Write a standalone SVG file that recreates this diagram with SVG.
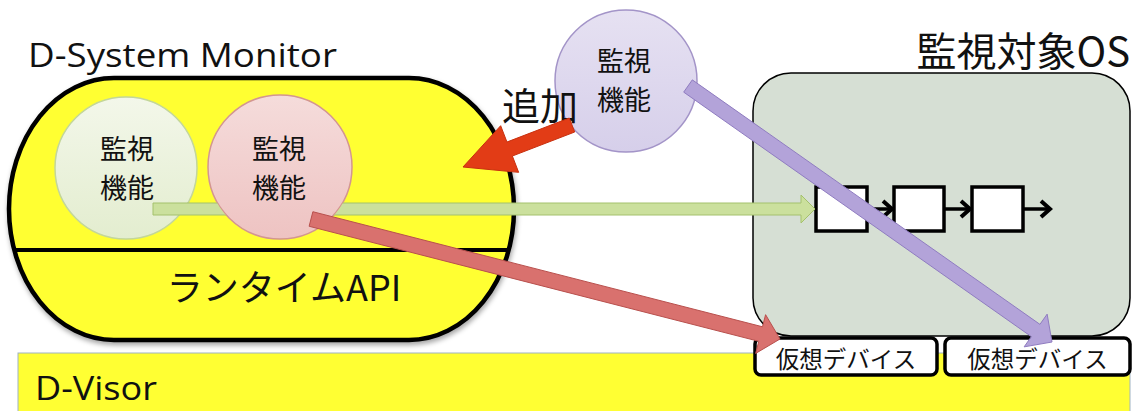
<svg xmlns="http://www.w3.org/2000/svg" width="1138" height="411" viewBox="0 0 1138 411">
<style>
.lat{font-family:"Open Sans","Noto Sans CJK JP",sans-serif;fill:#111}
.cjk{font-family:"Noto Sans CJK JP","Open Sans",sans-serif;fill:#111}
.mid{text-anchor:middle}
.chain{fill:#fff;stroke:#000;stroke-width:3.5}
.chainline{stroke:#000;stroke-width:3.5;fill:none}
.dev{fill:#fff;stroke:#000;stroke-width:3.5}
</style>
<defs>
<filter id="sh" x="-5%" y="-5%" width="110%" height="115%">
<feDropShadow dx="1" dy="3" stdDeviation="2.5" flood-color="#000" flood-opacity="0.35"/>
</filter>
<linearGradient id="gGreen" x1="0" y1="0" x2="0" y2="1"><stop offset="0" stop-color="#f3f7ea"/><stop offset="1" stop-color="#e3edcf"/></linearGradient>
<linearGradient id="gRed" x1="0" y1="0" x2="0" y2="1"><stop offset="0" stop-color="#f5dcdb"/><stop offset="1" stop-color="#eec3c2"/></linearGradient>
<linearGradient id="gPur" x1="0" y1="0" x2="0" y2="1"><stop offset="0" stop-color="#e6e1f2"/><stop offset="1" stop-color="#d6cfea"/></linearGradient>
<mask id="mRed" maskUnits="userSpaceOnUse" x="0" y="0" width="1138" height="411">
<rect width="1138" height="411" fill="#fff"/>
<circle cx="280" cy="167" r="72.5" fill="#000"/>
</mask>
<marker id="chev" viewBox="0 0 14 20" refX="11" refY="10" markerWidth="14" markerHeight="20" markerUnits="userSpaceOnUse" orient="auto">
<polyline points="2,2 11,10 2,18" fill="none" stroke="#000" stroke-width="4"/>
</marker>
</defs>

<rect width="1138" height="411" fill="#fff"/>

<g id="d-visor">
<rect x="18" y="353" width="1112" height="70" fill="#ffff33" stroke="#9fb4c4" stroke-width="1"/>
<text class="lat" x="35" y="400" font-size="33" textLength="122" lengthAdjust="spacingAndGlyphs">D-Visor</text>
</g>

<g id="d-system-monitor">
<text class="lat" x="28" y="67" font-size="33" textLength="309" lengthAdjust="spacingAndGlyphs">D-System Monitor</text>
<rect x="9" y="78" width="505" height="262" rx="105" ry="131" fill="#ffff33" stroke="#000" stroke-width="4.5" filter="url(#sh)"/>
<line x1="13" y1="250" x2="510" y2="250" stroke="#000" stroke-width="4"/>
</g>

<g id="runtime-api">
<text class="cjk mid" x="284" y="301" font-size="36">ランタイムAPI</text>
</g>

<g id="target-os">
<text class="cjk" x="1130" y="66" font-size="40" text-anchor="end">監視対象OS</text>
<rect x="753" y="73" width="377" height="263" rx="38" ry="38" fill="#d6dfd4" stroke="#000" stroke-width="1.5"/>
<rect class="chain" x="816" y="187" width="51" height="44"/>
<rect class="chain" x="894" y="187" width="50" height="44"/>
<rect class="chain" x="972" y="187" width="51" height="44"/>
<line class="chainline" x1="867" y1="209" x2="892" y2="209" marker-end="url(#chev)"/>
<line class="chainline" x1="944" y1="209" x2="970" y2="209" marker-end="url(#chev)"/>
<line class="chainline" x1="1023" y1="209" x2="1050" y2="209" marker-end="url(#chev)"/>
</g>

<g id="monitor-green">
<circle cx="126" cy="168" r="71" fill="url(#gGreen)" stroke="#c3d69b" stroke-width="1.5"/>
<text class="cjk mid" font-size="27"><tspan x="127" y="159">監視</tspan><tspan x="127" y="198">機能</tspan></text>
</g>

<g id="monitor-red">
<circle cx="280" cy="167" r="72" fill="url(#gRed)" stroke="#d39592" stroke-width="1.5"/>
<text class="cjk mid" font-size="27"><tspan x="279" y="159">監視</tspan><tspan x="279" y="198">機能</tspan></text>
</g>

<g id="monitor-purple">
<circle cx="626" cy="81" r="71" fill="url(#gPur)" stroke="#a394c8" stroke-width="1.5"/>
<text class="cjk mid" font-size="27"><tspan x="624" y="71">監視</tspan><tspan x="624" y="110">機能</tspan></text>
</g>

<g id="add-label">
<text class="cjk mid" x="540" y="120" font-size="38">追加</text>
</g>

<g id="vdev-1">
<rect class="dev" x="755" y="338" width="182" height="37" rx="6" ry="6"/>
<text class="cjk mid" x="846" y="368" font-size="23.5">仮想デバイス</text>
</g>

<g id="vdev-2">
<rect class="dev" x="945" y="338" width="185" height="37" rx="6" ry="6"/>
<text class="cjk mid" x="1037.5" y="368" font-size="23.5">仮想デバイス</text>
</g>

<g id="connectors">
<polygon points="153,203 801,203 801,195 815,209 801,223 801,215 153,215" fill="#cbe09d" stroke="#a4c16c" stroke-width="1" mask="url(#mRed)"/>
<polygon points="312.86,211.73 762.48,326.77 765.58,314.66 780,339 755.66,353.42 758.76,341.31 309.14,226.27" fill="#d9716e" stroke="#b8504d" stroke-width="1"/>
<polygon points="692.31,79.86 1039.95,324.37 1047.14,314.14 1052,342 1024.14,346.86 1031.33,336.64 683.69,92.14" fill="#b3a3d9" stroke="#8f7cc0" stroke-width="1"/>
<polygon points="569.30,118.0 506.96,142.02 500.67,125.69 463,167 518.65,172.35 512.36,156.02 574.70,132.0" fill="#e23c16" stroke="#c8300f" stroke-width="1"/>
</g>
</svg>
